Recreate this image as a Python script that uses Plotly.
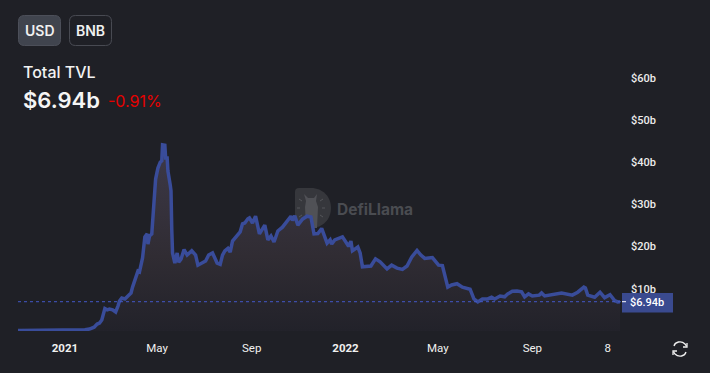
import pandas as pd
import plotly.graph_objects as go

W, H = 710, 373
BG = "#1f2026"
LINE = "#394c9a"

start_date = "2021-01-01"
# days relative to start_date
day_offsets = [-61,-32,6,26,32,38,42,45,48,51,52,55,58,62,66,69,71,74,78,82,86,88,92,95,97,101,
 104,107,108,110,113,116,118,121,124,126,127,130,131,133,134,137,138,139,140,143,146,148,151,155,
 159,165,170,173,178,183,187,192,198,202,205,208,212,215,218,224,228,231,234,238,240,244,248,253,
 260,264,268,272,277,283,287,294,296,299,303,309,315,320,324,329,334,341,345,347,351,361,369,372,
 374,381,384,387,398,404,410,419,425,432,439,445,451,458,463,468,473,478,486,491,498,503,510,517,
 527,532,537,543,550,555,559,566,572,576,582,588,594,598,603,608,617,620,624,637,646,660,667,675,
 677,680,689,696,702,709,715,719,722]
tvl = [0.12,0.14,0.2,0.3,0.45,0.9,1.65,1.9,2.6,4.5,5.3,5.0,5.2,5.0,4.5,5.9,7.1,7.8,7.6,8.3,9.0,10.4,12.8,14.2,14.0,17.3,
 22.3,23.0,20.6,22.5,23.0,31.8,36.0,38.6,40.0,40.3,44.1,44.0,41.0,41.0,37.9,34.6,33.2,24.0,18.5,16.1,18.5,16.3,17.0,19.3,
 18.0,19.0,18.0,15.6,16.1,16.6,18.0,18.5,16.1,15.8,18.0,19.0,19.6,18.7,21.3,22.6,23.5,25.4,25.6,26.6,26.8,25.6,27.2,23.0,
 25.1,21.6,22.5,21.1,23.7,24.6,25.5,27.2,26.2,27.3,25.1,26.5,27.2,27.0,23.0,23.1,24.3,20.8,21.6,20.6,21.6,22.3,20.1,21.3,
 19.0,19.9,18.5,15.2,15.4,17.1,16.4,14.7,15.6,14.9,14.6,15.4,17.5,19.1,18.0,17.2,17.3,17.4,15.6,15.5,10.4,10.9,11.2,10.4,
 9.9,7.6,6.9,7.6,7.6,8.0,7.6,8.3,8.1,8.8,9.4,9.5,9.3,8.1,8.8,8.3,8.5,9.0,8.3,8.8,9.0,8.5,9.2,10.4,
 10.2,8.5,8.0,9.2,7.9,8.6,7.2,6.9,6.94]

x_tick_dates = ["2021-01-01","2021-05-01","2021-09-01","2022-01-01","2022-05-01","2022-09-01","2022-12-08"]
x_tick_labels = ["<b>2021</b>","May","Sep","<b>2022</b>","May","Sep","8"]
y_tick_values = [10,20,30,40,50,60]
y_tick_labels = ["$10b","$20b","$30b","$40b","$50b","$60b"]
current_value = 6.94
current_label = "$6.94b"
change_label = "-0.91%"
title_label = "Total TVL"
button_labels = ["USD","BNB"]

dates = pd.Timestamp(start_date) + pd.to_timedelta(day_offsets, unit="D")
def px(x): return x / W
def py(y): return 1 - y / H

PLOT_L, PLOT_R, PLOT_T, PLOT_B = 18, 620, 60, 331
y_max = (PLOT_B - PLOT_T) / 4.22

fig = go.Figure(go.Scatter(
    x=dates, y=tvl, mode="lines", cliponaxis=False,
    line=dict(color=LINE, width=3.5, shape="linear"),
    fill="tozeroy",
    fillgradient=dict(type="vertical", start=44, stop=0,
        colorscale=[[0,"#3d3948"],[0.6,"#302c33"],[1,"#22222a"]]),
    hoverinfo="skip",
))

def rrect(x0,y0,x1,y1,r):
    X0,X1=px(x0),px(x1); Y0,Y1=py(y0),py(y1); rx,ry=r/W,r/H
    return (f"M{X0+rx},{Y0} L{X1-rx},{Y0} Q{X1},{Y0} {X1},{Y0-ry} L{X1},{Y1+ry} Q{X1},{Y1} {X1-rx},{Y1} "
            f"L{X0+rx},{Y1} Q{X0},{Y1} {X0},{Y1+ry} L{X0},{Y0-ry} Q{X0},{Y0} {X0+rx},{Y0} Z")
def P(*pts):
    return " ".join(f"{c}{px(x)},{py(y)}" for c,x,y in pts)
def paper_path(path, **kw):
    return dict(type="path", xref="paper", yref="paper", path=path, **kw)

logo = ("M%f,%f L%f,%f C%f,%f %f,%f %f,%f C%f,%f %f,%f %f,%f L%f,%f Q%f,%f %f,%f L%f,%f Q%f,%f %f,%f Z" % (
    px(299),py(188), px(311),py(188), px(323),py(188), px(331),py(197), px(331),py(208),
    px(331),py(219), px(323),py(228), px(311),py(228), px(299),py(228), px(295),py(228), px(295),py(224),
    px(295),py(192), px(295),py(188), px(299),py(188)))
llama = P(("M",304,194),("L",308,198),("L",314,198),("L",317,194),("L",316,201),("L",318,207),("L",317,228),
          ("L",306,228),("L",305,207),("L",306,201)) + " Z"
logo_ticks = [((299,199),(302,201)),((297,208),(300,208)),((299,217),(302,215)),
              ((323,199),(320,201)),((325,208),(322,208)),((323,217),(320,215))]

shapes = [
    paper_path(logo, fillcolor="#36373c", line=dict(width=0), layer="below"),
    paper_path(llama, fillcolor="#505156", line=dict(width=0), layer="below"),
]
for (a,b),(c,d) in logo_ticks:
    shapes.append(paper_path(P(("M",a,b),("L",c,d)), line=dict(color="#55565a", width=1), layer="below"))
shapes += [
    paper_path(rrect(18.5,15.5,60.5,45.5,6), fillcolor="#40444e", line=dict(color="#4c4f59", width=1)),
    paper_path(rrect(69.5,15.5,111.5,45.5,6), fillcolor=BG, line=dict(color="#484a52", width=1)),
    dict(type="line", xref="paper", yref="y", x0=px(18), x1=px(622), y0=current_value, y1=current_value,
         line=dict(color="#4359c8", width=1, dash="3px,3px")),
    dict(type="rect", xref="paper", yref="paper", x0=px(622), x1=px(673), y0=py(312.5), y1=py(293),
         fillcolor="#3a4a8f", line=dict(width=0)),
    dict(type="line", xref="paper", yref="y", x0=px(622), x1=px(626), y0=current_value, y1=current_value,
         line=dict(color="#ffffff", width=1)),
    paper_path(P(("M",674,346))+" "+f"C{px(675)},{py(342)} {px(681)},{py(340)} {px(685)},{py(344)} L{px(686.5)},{py(346)}",
               line=dict(color="#f0f0f0", width=1.3)),
    paper_path(P(("M",687,343),("L",687,347),("L",683,347)), line=dict(color="#f0f0f0", width=1.3)),
    paper_path(P(("M",686,352))+" "+f"C{px(685)},{py(356)} {px(679)},{py(358)} {px(675)},{py(354)} L{px(673.5)},{py(352)}",
               line=dict(color="#f0f0f0", width=1.3)),
    paper_path(P(("M",673,355),("L",673,351),("L",677,351)), line=dict(color="#f0f0f0", width=1.3)),
]

FONT = "Inter, Roboto, sans-serif"
def text(x, y, s, size, color="#f2f2f2", weight=400, anchor="left", family=FONT, yref="paper"):
    return dict(xref="paper", yref=yref, x=px(x), y=py(y) if yref=="paper" else y, text=s, showarrow=False,
                xanchor=anchor, yanchor="middle", font=dict(size=size, color=color, weight=weight, family=family))

annotations = [
    text(39.5, 30.5, button_labels[0], 14, "#f0f0f0", 600, "center"),
    text(90.5, 30.5, button_labels[1], 14, "#f0f0f0", 600, "center"),
    text(21, 72, title_label, 16, "#f2f2f2", 500),
    text(21, 100, current_label, 22, "#f5f5f5", 600),
    text(105.5, 101, change_label, 16, "#e60000", 400),
    text(335, 209, "DefiLlama", 15.5, "#4a4c51", 700),
    text(628, 302.5, current_label, 11, "#ffffff", 500, family="Roboto, sans-serif"),
]

fig.update_layout(
    width=W, height=H, margin=dict(l=0,r=0,t=0,b=0), paper_bgcolor=BG, plot_bgcolor=BG,
    showlegend=False, shapes=shapes, annotations=annotations,
    xaxis=dict(domain=[px(PLOT_L),px(PLOT_R)], range=[dates[0],dates[-1]], showgrid=False, zeroline=False,
               showline=False, tickmode="array", tickvals=x_tick_dates, ticktext=x_tick_labels, ticks="",
               tickangle=0, ticklabelstandoff=8, ticklabeloverflow="allow",
               tickfont=dict(size=11.5, color="#f0f0f0", family="Roboto, sans-serif")),
    yaxis=dict(domain=[py(PLOT_B),py(PLOT_T)], range=[0,y_max], side="right", showgrid=False, zeroline=False,
               showline=False, tickmode="array", tickvals=y_tick_values, ticktext=y_tick_labels, ticks="",
               ticklabelstandoff=10,
               tickfont=dict(size=11, color="#ececec", family="Roboto, sans-serif", weight=500)),
)
fig.write_html("out.html", config={"displayModeBar": False},
               post_script="document.body.style.margin='0';document.body.style.overflow='hidden';")
